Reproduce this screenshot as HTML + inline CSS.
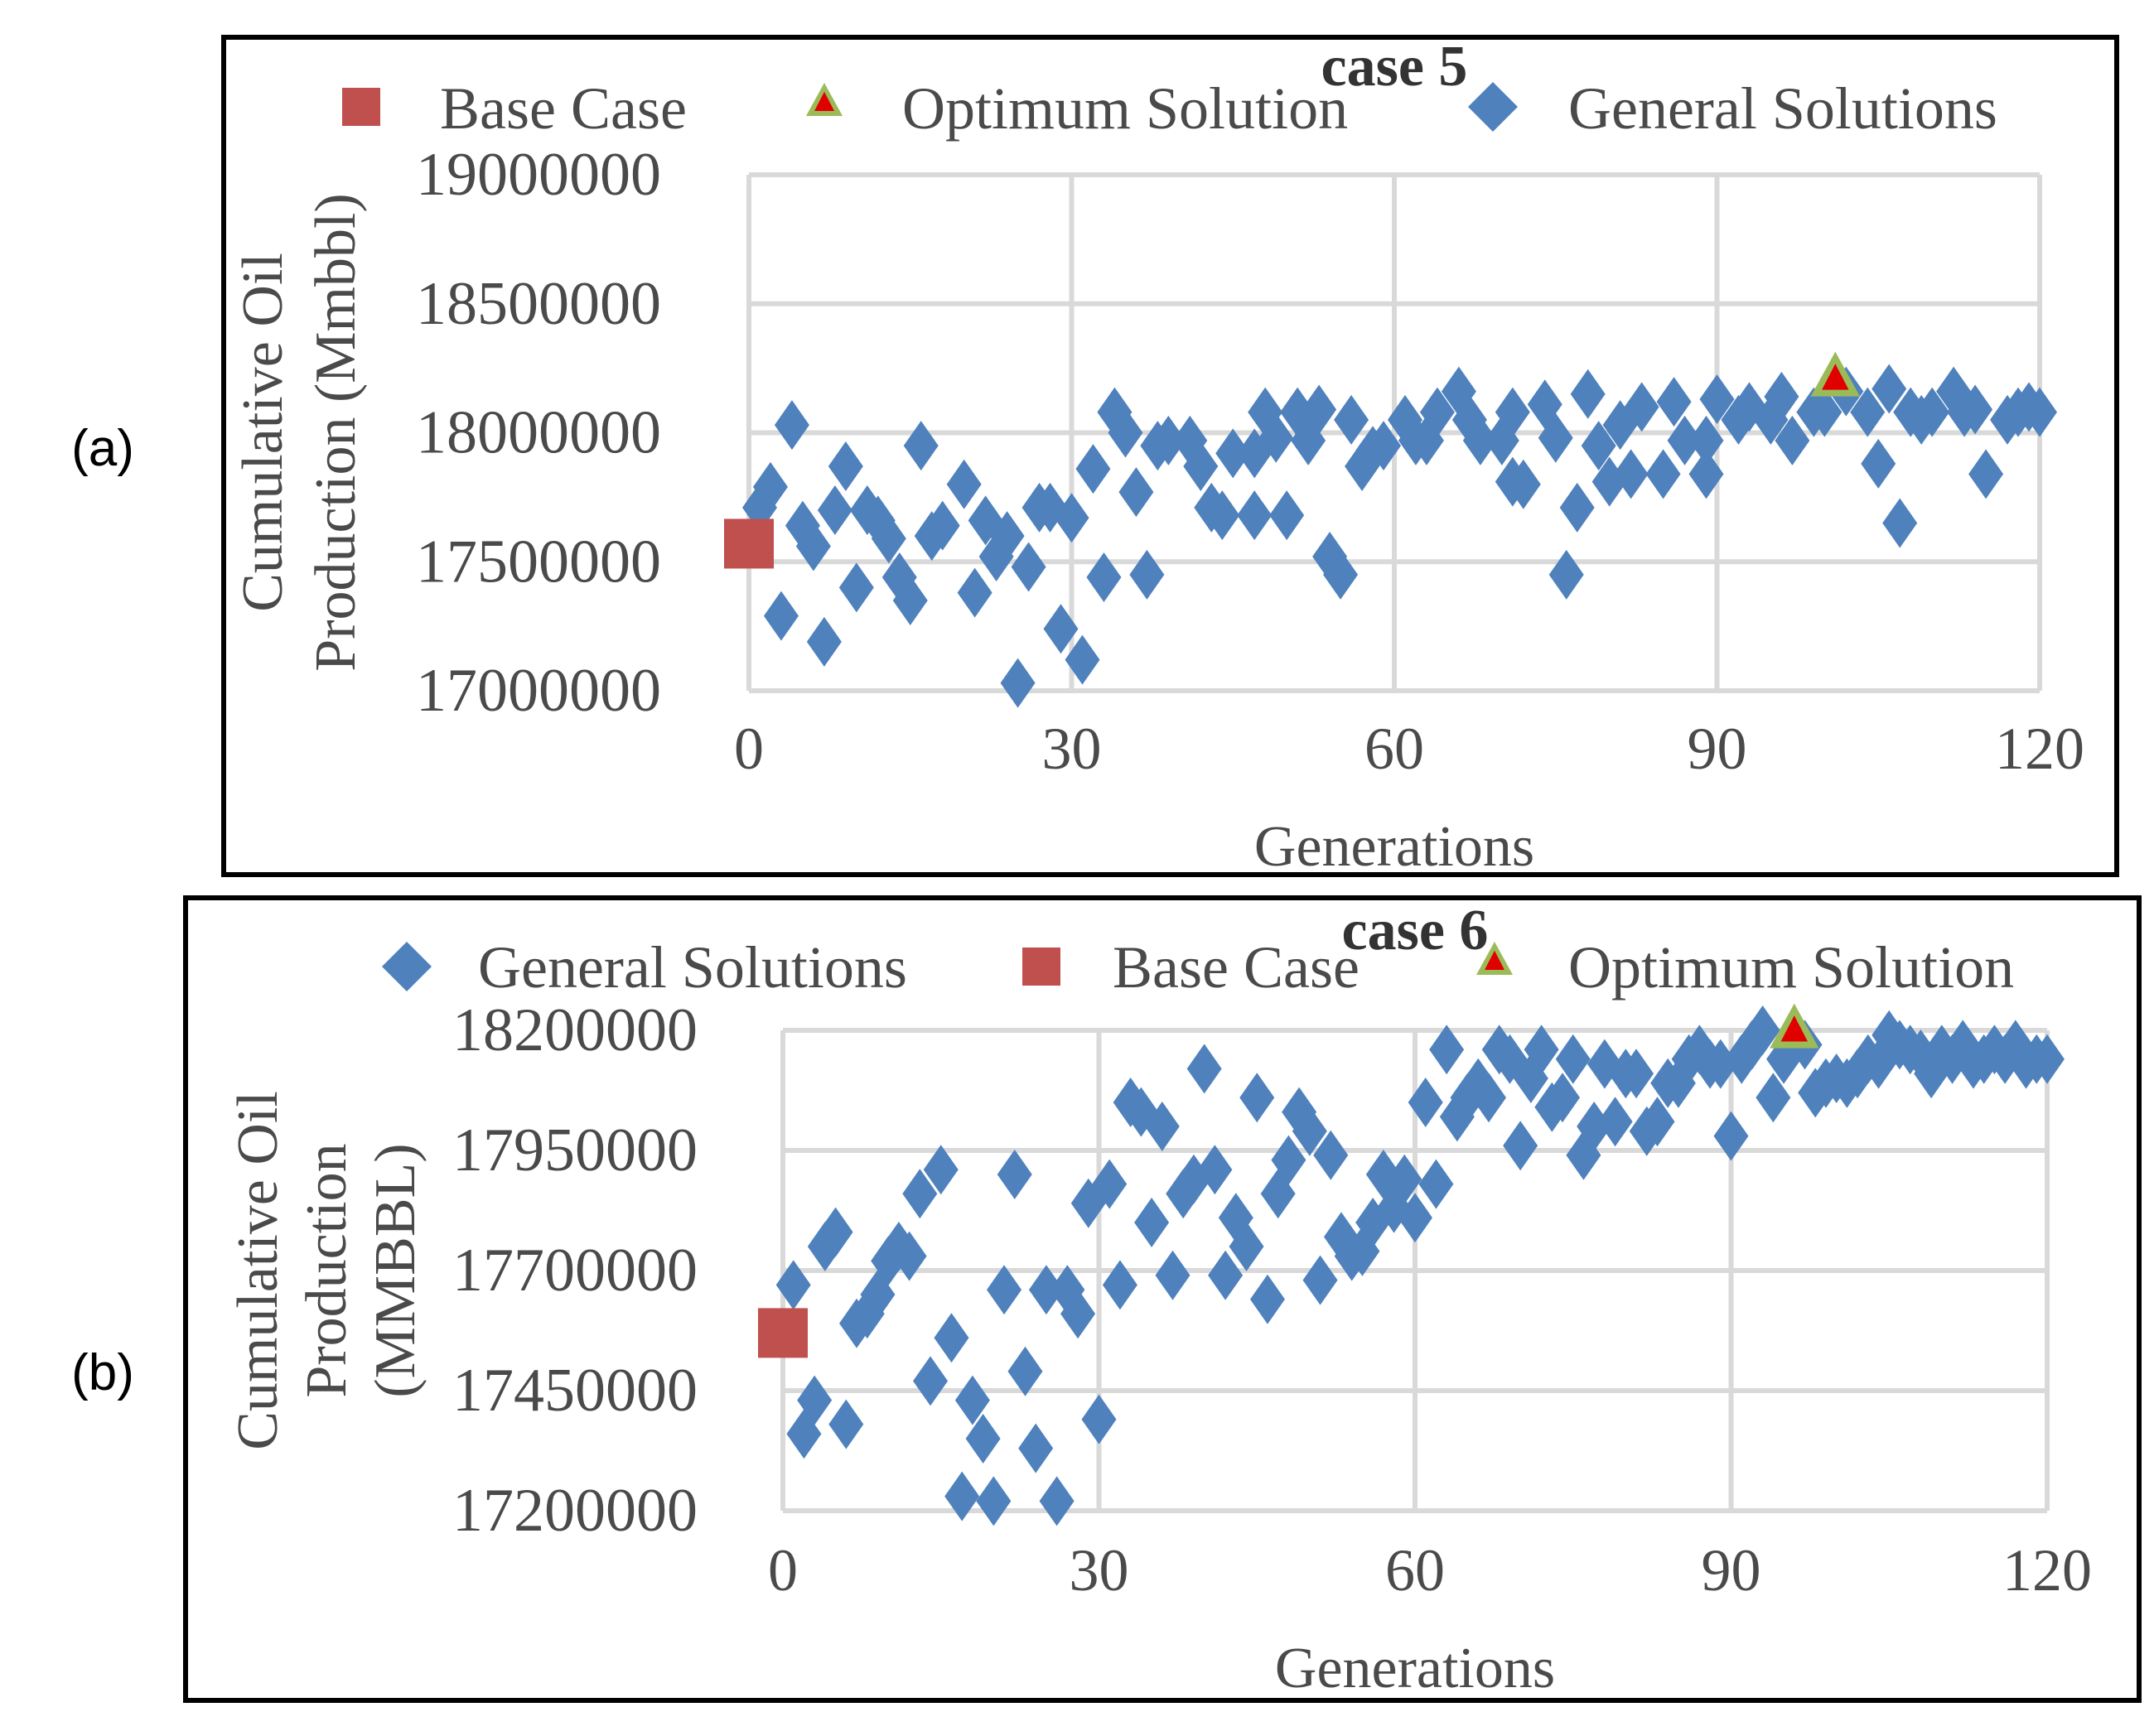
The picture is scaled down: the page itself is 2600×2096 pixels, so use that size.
<!DOCTYPE html>
<html><head><meta charset="utf-8"><style>
html,body{margin:0;padding:0;background:#fff;}
svg{display:block;}
text{font-family:"Liberation Serif",serif;}
</style></head>
<body>
<svg id="chart" width="2600" height="2096" viewBox="0 0 2600 2096" xmlns="http://www.w3.org/2000/svg">
<g id="root"></g>
</svg>
<script>
// ---- panel (a) data: case 5 ----
const genA = [1,2,3,4,5,6,7,8,9,10,11,12,13,14,15,16,17,18,20,21,22,23,24,25,26,27,28,29,30,31,32,33,34,35,36,37,38,39,41,42,43,44,45,47,47,48,49,50,51,52,53,54,55,56,57,58,59,61,62,63,64,66,67,68,70,71,71,72,74,75,76,77,78,79,80,81,82,83,85,86,87,89,89,90,92,93,95,96,97,99,100,102,104,105,106,107,108,109,110,112,113,114,115,117,118,119,120];
const valA = [17.71,17.79,17.29,18.03,17.64,17.56,17.19,17.70,17.87,17.40,17.70,17.66,17.59,17.44,17.35,17.95,17.60,17.64,17.80,17.38,17.66,17.52,17.60,17.03,17.48,17.71,17.71,17.24,17.67,17.12,17.86,17.44,18.08,18.00,17.77,17.45,17.95,17.97,17.97,17.87,17.71,17.68,17.92,17.92,17.68,18.08,17.98,17.68,18.08,17.97,18.09,17.52,17.45,18.05,17.87,17.93,17.95,18.05,17.97,17.97,18.08,18.16,18.05,17.97,17.97,18.08,17.81,17.80,18.11,17.98,17.45,17.71,18.15,17.95,17.81,18.03,17.84,18.10,17.84,18.12,17.97,17.97,17.84,18.13,18.05,18.10,18.05,18.14,17.97,18.08,18.08,18.16,18.08,17.88,18.17,17.65,18.08,18.05,18.08,18.16,18.08,18.09,17.84,18.05,18.08,18.10,18.08];
const baseA = [0, 17.57];
const optA = [101, 18.21];
const yTicksA = [17.0,17.5,18.0,18.5,19.0];
const yLabelsA = ["17000000","17500000","18000000","18500000","19000000"];
const xTicks = [0,30,60,90,120];

// ---- panel (b) data: case 6 ----
const genB = [1,2,3,4,5,6,7,8,9,10,11,12,13,14,15,16,17,18,19,20,21,22,23,24,25,26,27,28,29,30,31,32,33,34,35,36,37,38,39,40,41,42,43,44,45,46,47,48,49,50,51,52,53,54,55,56,57,58,59,60,61,62,63,64,65,66,67,68,69,70,71,72,73,74,75,76,77,78,79,80,81,82,83,84,85,86,87,88,89,90,91,92,93,94,95,97,98,99,100,101,102,103,104,105,106,107,108,109,110,111,112,113,114,115,116,117,118,119,120];
const valB = [17.67,17.36,17.43,17.75,17.78,17.38,17.59,17.61,17.65,17.72,17.75,17.73,17.86,17.47,17.91,17.56,17.23,17.43,17.35,17.22,17.66,17.90,17.49,17.33,17.66,17.22,17.66,17.61,17.84,17.39,17.88,17.67,18.05,18.03,17.80,18.00,17.69,17.86,17.89,18.12,17.91,17.69,17.81,17.75,18.06,17.64,17.86,17.93,18.03,17.99,17.68,17.94,17.77,17.73,17.74,17.80,17.90,17.83,17.89,17.81,18.05,17.88,18.16,18.02,18.06,18.09,18.06,18.16,18.14,17.96,18.10,18.16,18.04,18.06,18.14,17.94,18.00,18.13,18.01,18.11,18.11,17.99,18.01,18.09,18.09,18.14,18.16,18.13,18.13,17.98,18.14,18.17,18.20,18.06,18.14,18.17,18.07,18.09,18.10,18.09,18.11,18.14,18.13,18.19,18.17,18.16,18.15,18.11,18.16,18.14,18.17,18.13,18.14,18.16,18.14,18.17,18.13,18.14,18.14];
const baseB = [0, 17.57];
const optB = [96, 18.20];
const yTicksB = [17.2,17.45,17.7,17.95,18.2];
const yLabelsB = ["17200000","17450000","17700000","17950000","18200000"];

const NS = "http://www.w3.org/2000/svg";
const root = document.getElementById('root');
function mk(tag, attrs, parent, txt){
  const e = document.createElementNS(NS, tag);
  for (const k in attrs) e.setAttribute(k, attrs[k]);
  if (txt !== undefined) e.textContent = txt;
  (parent||root).appendChild(e);
  return e;
}
const BLUE="#4f81bd", RED="#c0504d", GRID="#d9d9d9", TXT="#4a4a4a";

function diamond(cx, cy, g){
  const e = mk('polygon',{points:`${cx},${cy-30} ${cx+21},${cy} ${cx},${cy+30} ${cx-21},${cy}`,fill:BLUE}, g);
  
  
  return e;
}
function square(cx, cy, s, g){
  return mk('rect',{x:cx-s/2,y:cy-s/2,width:s,height:s,fill:RED}, g);
}
function triangle(cx, cy, s, g){
  const gg = mk('g',{}, g);
  mk('polygon',{points:`${cx},${cy-s*0.6} ${cx+s*0.55},${cy+s*0.4} ${cx-s*0.55},${cy+s*0.4}`,fill:"#9bbb59"}, gg);
  mk('polygon',{points:`${cx},${cy-s*0.33} ${cx+s*0.3},${cy+s*0.25} ${cx-s*0.3},${cy+s*0.25}`,fill:"#e00000"}, gg);
  return gg;
}

function panel(cfg){
  const g = mk('g',{});
  
  
  const frame = mk('rect',{x:cfg.box[0],y:cfg.box[1],width:cfg.box[2],height:cfg.box[3],fill:"none",stroke:"#000","stroke-width":6}, g);
  
  
  const xs = v => cfg.x0 + (v - 0) / 120 * (cfg.x1 - cfg.x0);
  const ymin = cfg.yT[0], ymax = cfg.yT[cfg.yT.length-1];
  const ys = v => cfg.yb + (v - ymin) / (ymax - ymin) * (cfg.yt - cfg.yb);
  cfg.yT.forEach((t,i)=>{
    const l = mk('line',{x1:cfg.x0,x2:cfg.x1,y1:ys(t),y2:ys(t),stroke:GRID,"stroke-width":6}, g);
    
    
    const tx = mk('text',{x:cfg.yLabX,y:ys(t)+24,"text-anchor":"end","font-size":74,fill:TXT}, g, cfg.yL[i]);
    
    
  });
  xTicks.forEach(t=>{
    const l = mk('line',{x1:xs(t),x2:xs(t),y1:cfg.yt,y2:cfg.yb,stroke:GRID,"stroke-width":6}, g);
    
    
    const tx = mk('text',{x:xs(t),y:cfg.xLabY,"text-anchor":"middle","font-size":72,fill:TXT}, g, String(t));
    
    
  });
  const pts = mk('g',{}, g);
  
  
  cfg.gen.forEach((x,i)=>diamond(xs(x), ys(cfg.val[i]), pts));
  const b = square(xs(cfg.base[0]), ys(cfg.base[1]), 60, g);
  
  
  const o = triangle(xs(cfg.opt[0]), ys(cfg.opt[1]), 54, g);
  
  
  const xt = mk('text',{x:cfg.xTitle[0],y:cfg.xTitle[1],"text-anchor":"middle","font-size":70,fill:TXT}, g, "Generations");
  
  
  const yt = mk('text',{transform:`translate(${cfg.yTitle[0]},${cfg.yTitle[1]}) rotate(-90)`,"text-anchor":"middle","font-size":70,fill:TXT}, g);
  
  
  cfg.yTitleLines.forEach((s,i)=>mk('tspan',{x:0,y:i*cfg.yTitleGap},yt,s));
  const ct = mk('text',{x:cfg.caseT[0],y:cfg.caseT[1],"text-anchor":"middle","font-size":70,"font-weight":"bold",fill:"#333"}, g, cfg.caseLabel);
  
  
  const lg = mk('g',{}, g);
  
  
  cfg.legend.forEach(it=>{
    const eg = mk('g',{}, lg);
    
    
    if (it.k==='d') mk('polygon',{points:`${it.mx},${it.my-30} ${it.mx+30},${it.my} ${it.mx},${it.my+30} ${it.mx-30},${it.my}`,fill:BLUE}, eg);
    if (it.k==='s') square(it.mx, it.my, 46, eg);
    if (it.k==='t') triangle(it.mx, it.my, 40, eg);
    mk('text',{x:it.tx,y:cfg.legY,"font-size":72,fill:TXT}, eg, it.t);
  });
}

panel({name:'panel-a-case5', box:[270,45,2285,1011], x0:904, x1:2462, yt:211, yb:834,
  gen:genA, val:valA, base:baseA, opt:optA, yT:yTicksA, yL:yLabelsA, yLabX:798, xLabY:928,
  xTitle:[1683,1045], yTitle:[340,522], yTitleLines:["Cumulative Oil","Production (Mmbbl)"], yTitleGap:88,
  caseT:[1683,103], caseLabel:"case 5", legY:155,
  legend:[{k:'s',mx:436,my:129,tx:531,t:"Base Case"},{k:'t',mx:995,my:124,tx:1089,t:"Optimum Solution"},{k:'d',mx:1802,my:129,tx:1893,t:"General Solutions"}]});

panel({name:'panel-b-case6', box:[224,1084,2358,969], x0:945, x1:2471, yt:1244, yb:1824,
  gen:genB, val:valB, base:baseB, opt:optB, yT:yTicksB, yL:yLabelsB, yLabX:842, xLabY:1920,
  xTitle:[1708,2037], yTitle:[334,1534], yTitleLines:["Cumulative Oil","Production","(MMBBL)"], yTitleGap:83,
  caseT:[1708,1146], caseLabel:"case 6", legY:1192,
  legend:[{k:'d',mx:491,my:1167,tx:577,t:"General Solutions"},{k:'s',mx:1257,my:1167,tx:1343,t:"Base Case"},{k:'t',mx:1804,my:1161,tx:1893,t:"Optimum Solution"}]});

const la = mk('text',{x:124,y:562,"text-anchor":"middle","font-size":62,fill:"#000",style:"font-family:'Liberation Sans',sans-serif"}, root, "(a)");


const lb = mk('text',{x:124,y:1678,"text-anchor":"middle","font-size":62,fill:"#000",style:"font-family:'Liberation Sans',sans-serif"}, root, "(b)");


</script>
</body></html>
